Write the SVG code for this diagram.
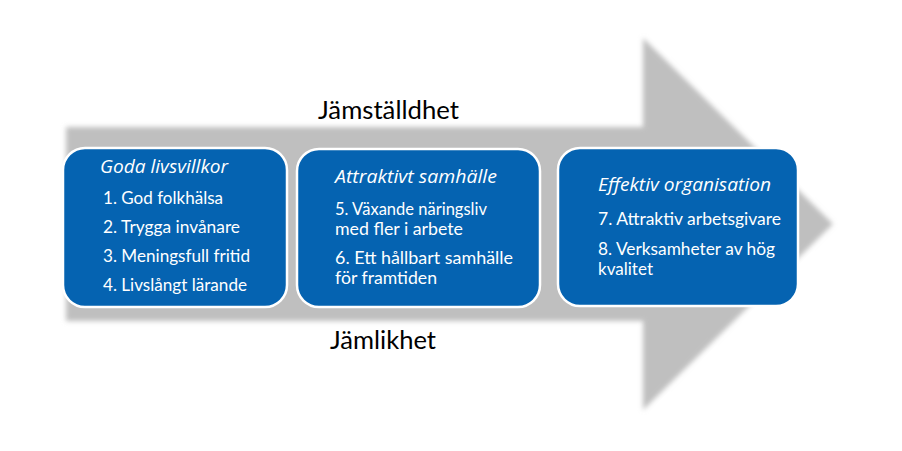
<svg xmlns="http://www.w3.org/2000/svg" width="902" height="451" viewBox="0 0 902 451">
<defs>
<filter id="soft" x="-5%" y="-5%" width="110%" height="110%">
<feGaussianBlur stdDeviation="2.5"/>
</filter>
<style>
.box{fill:#0563B1;stroke:#ffffff;stroke-width:2.5}
.t{font-family:Lato,"Open Sans","Liberation Sans",sans-serif;fill:#ffffff;font-size:17.5px}
.h{font-family:"Open Sans",Lato,"Liberation Sans",sans-serif;font-style:italic;font-size:17.5px}
.lbl{font-family:Lato,"Open Sans","Liberation Sans",sans-serif;fill:#000000;font-size:25.5px}
</style>
</defs>
<rect width="902" height="451" fill="#ffffff"/>
<g id="arrow">
<polygon points="66,127 643,127 643,38 833,224 643,410 643,321 66,321" fill="#bfbfbf" filter="url(#soft)"/>
</g>
<g id="labels">
<text class="lbl" x="318" y="119" textLength="141" lengthAdjust="spacingAndGlyphs">Jämställdhet</text>
<text class="lbl" x="330" y="349" textLength="106" lengthAdjust="spacingAndGlyphs">Jämlikhet</text>
</g>
<g id="node1">
<rect class="box" x="63" y="148" width="224" height="159" rx="22"/>
<text class="t h" x="100" y="173" textLength="128" lengthAdjust="spacingAndGlyphs">Goda livsvillkor</text>
<text class="t" x="103" y="204" textLength="120" lengthAdjust="spacingAndGlyphs">1. God folkhälsa</text>
<text class="t" x="103" y="233" textLength="137" lengthAdjust="spacingAndGlyphs">2. Trygga invånare</text>
<text class="t" x="103" y="262" textLength="147" lengthAdjust="spacingAndGlyphs">3. Meningsfull fritid</text>
<text class="t" x="103" y="291" textLength="144" lengthAdjust="spacingAndGlyphs">4. Livslångt lärande</text>
</g>
<g id="node2">
<rect class="box" x="297" y="149" width="243" height="158" rx="22"/>
<text class="t h" x="335" y="183" textLength="162" lengthAdjust="spacingAndGlyphs">Attraktivt samhälle</text>
<text class="t" x="335" y="215" textLength="152" lengthAdjust="spacingAndGlyphs">5. Växande näringsliv</text>
<text class="t" x="335" y="235" textLength="128" lengthAdjust="spacingAndGlyphs">med fler i arbete</text>
<text class="t" x="335" y="264" textLength="178" lengthAdjust="spacingAndGlyphs">6. Ett hållbart samhälle</text>
<text class="t" x="335" y="284" textLength="102" lengthAdjust="spacingAndGlyphs">för framtiden</text>
</g>
<g id="node3">
<rect class="box" x="558" y="148" width="240" height="158" rx="22"/>
<text class="t h" x="598" y="191" textLength="173" lengthAdjust="spacingAndGlyphs">Effektiv organisation</text>
<text class="t" x="598" y="225" textLength="183" lengthAdjust="spacingAndGlyphs">7. Attraktiv arbetsgivare</text>
<text class="t" x="598" y="255" textLength="177" lengthAdjust="spacingAndGlyphs">8. Verksamheter av hög</text>
<text class="t" x="598" y="275" textLength="55" lengthAdjust="spacingAndGlyphs">kvalitet</text>
</g>
<g id="connectors"/>
</svg>
